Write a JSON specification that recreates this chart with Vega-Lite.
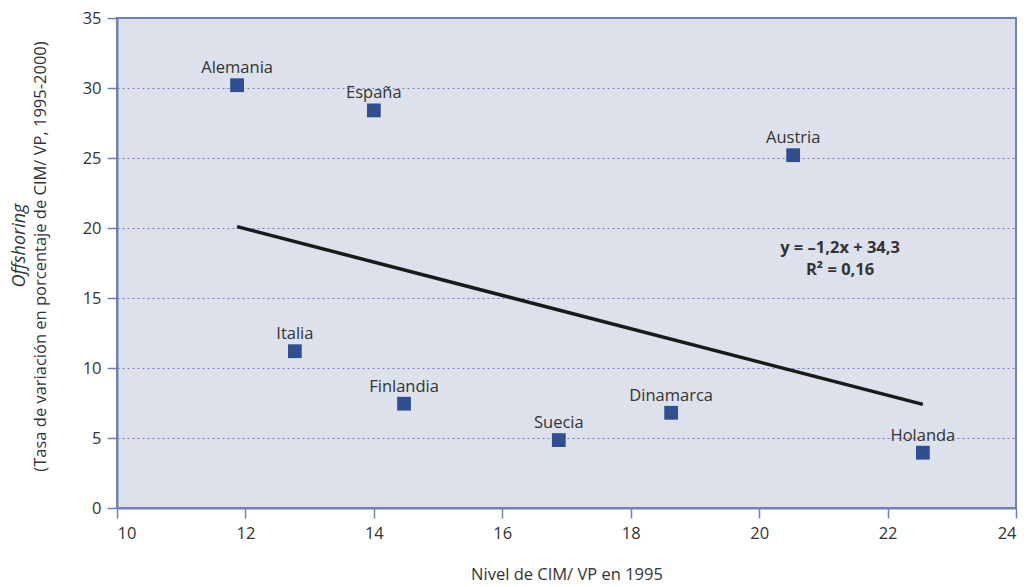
{
  "$schema": "https://vega.github.io/schema/vega-lite/v6.json",
  "autosize": {"type": "none"},
  "width": 899,
  "height": 490,
  "padding": {"left": 117, "top": 18, "right": 11, "bottom": 79},
  "background": "white",
  "config": {
    "font": "Open Sans",
    "view": {"fill": "#dde1ec", "stroke": "#7080b8", "strokeWidth": 2},
    "axis": {
      "labelFont": "Open Sans", "labelFontSize": 16.5, "labelColor": "#333333",
      "titleFont": "Open Sans", "titleFontSize": 16.5, "titleColor": "#333333", "titleFontWeight": "normal",
      "domainColor": "#7080b8", "domainWidth": 2, "tickColor": "#7080b8", "tickWidth": 1.5, "tickSize": 10
    }
  },
  "datasets": {
    "paises": [
      {"pais": "Alemania", "cim": 11.87, "off": 30.2},
      {"pais": "España", "cim": 14.0, "off": 28.4},
      {"pais": "Austria", "cim": 20.53, "off": 25.2},
      {"pais": "Italia", "cim": 12.77, "off": 11.2},
      {"pais": "Finlandia", "cim": 14.47, "off": 7.45},
      {"pais": "Suecia", "cim": 16.88, "off": 4.85},
      {"pais": "Dinamarca", "cim": 18.63, "off": 6.8},
      {"pais": "Holanda", "cim": 22.55, "off": 3.95}
    ],
    "tendencia": [
      {"cim": 11.87, "off": 20.1},
      {"cim": 22.55, "off": 7.4}
    ],
    "ecuacion": [
      {"cim": 21.26, "off": 18.55, "texto": "y = –1,2x + 34,3"},
      {"cim": 21.26, "off": 17.0, "texto": "R² = 0,16"}
    ]
  },
  "layer": [
    {
      "layer": [
        {
          "data": {"name": "paises"},
          "mark": {"type": "square", "size": 190, "color": "#2f4f8f", "opacity": 1},
          "encoding": {
            "x": {"field": "cim", "type": "quantitative",
              "scale": {"domain": [10, 24], "nice": false, "zero": false},
              "axis": {"values": [10, 12, 14, 16, 18, 20, 22, 24], "format": "d", "grid": false, "labelPadding": 7,
                "title": "Nivel de CIM/ VP en 1995", "titlePadding": 25}},
            "y": {"field": "off", "type": "quantitative",
              "scale": {"domain": [0, 35], "nice": false},
              "axis": {"values": [0, 5, 10, 15, 20, 25, 30, 35], "format": "d", "grid": true, "gridDash": [2, 3],
                "gridColor": "#6f7cc0", "gridWidth": 1.2, "labelPadding": 6,
                "title": "(Tasa de variación en porcentaje de CIM/ VP, 1995-2000)", "titlePadding": 34, "titleY": 238}}
          }
        },
        {
          "data": {"name": "paises"},
          "mark": {"type": "text", "baseline": "bottom", "align": "center", "dy": -9, "fontSize": 16.5, "color": "#333333", "font": "Open Sans"},
          "encoding": {
            "x": {"field": "cim", "type": "quantitative"},
            "y": {"field": "off", "type": "quantitative"},
            "text": {"field": "pais"}
          }
        },
        {
          "data": {"name": "tendencia"},
          "mark": {"type": "line", "color": "#1a1a1a", "strokeWidth": 3.5},
          "encoding": {
            "x": {"field": "cim", "type": "quantitative"},
            "y": {"field": "off", "type": "quantitative"}
          }
        },
        {
          "data": {"name": "ecuacion"},
          "mark": {"type": "text", "align": "center", "baseline": "middle", "fontSize": 16.5, "fontWeight": "bold", "color": "#333333", "font": "Open Sans"},
          "encoding": {
            "x": {"field": "cim", "type": "quantitative"},
            "y": {"field": "off", "type": "quantitative"},
            "text": {"field": "texto"}
          }
        }
      ]
    },
    {
      "data": {"name": "paises"},
      "mark": {"type": "point", "opacity": 0},
      "encoding": {
        "x": {"field": "cim", "type": "quantitative", "scale": {"domain": [10, 24], "nice": false, "zero": false}},
        "y": {"field": "off", "type": "quantitative",
          "scale": {"domain": [0, 35], "nice": false},
          "axis": {"orient": "left", "labels": false, "ticks": false, "domain": false, "grid": false,
            "title": "Offshoring", "titleFontStyle": "italic", "titleFontSize": 18, "titlePadding": 89, "titleY": 227}}
      }
    }
  ],
  "resolve": {"scale": {"y": "independent"}, "axis": {"y": "independent"}}
}
